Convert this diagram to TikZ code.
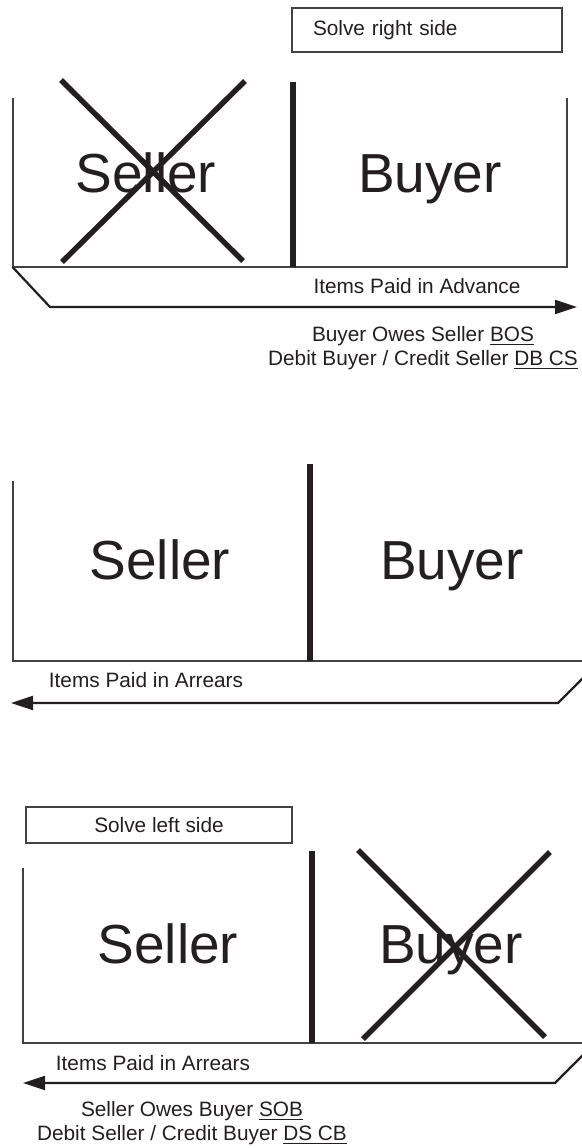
\documentclass[tikz,border=0pt]{standalone}
\usepackage{fontspec}
\setmainfont{Liberation Sans}
\usepackage{xcolor}
\usetikzlibrary{arrows.meta, positioning}
\definecolor{ink}{RGB}{35,31,32}

\begin{document}
\begin{tikzpicture}[x=0.5pt,y=-0.5pt,
                    frame/.style={draw=ink!85,line width=1pt},
                    divider/.style={draw=ink,line width=3pt},
                    cross/.style={draw=ink,line width=2.7pt},
                    flow/.style={draw=ink,line width=1.1pt,-{Triangle[length=11pt,width=7pt]}},
                    note/.style={text=ink,inner sep=0pt,font=\fontsize{10.4}{12.5}\selectfont},
                    side/.style={text=ink,inner sep=0pt,font=\fontsize{27.5}{33}\selectfont},
                    tag/.style={draw=ink!85,line width=0.8pt,text=ink,font=\fontsize{10.4}{12.5}\selectfont}]
  \clip (0,0) rectangle (582,1148);
%first section
  \node (Box1) [tag,text width=114pt,align=left,inner xsep=10.5pt,minimum height=22pt] at (427,30) {Solve right side};
  \coordinate (TL1) at (12.5,98);
  \coordinate (BL1) at (12.5,267);
  \coordinate (BR1) at (567,267);
  \coordinate (TR1) at (567,98);
  \coordinate (Dt1) at (293,82);
  \coordinate (Db1) at (293,267);
  \coordinate (K1) at (50,307);
  \coordinate (E1) at (577,307);
  \node[side,anchor=base] (Seller1) at (146,192) {Seller};
  \node[side,anchor=base] (Buyer1) at (430,192) {Buyer};
  \coordinate (Xa1) at (61,80);
  \coordinate (Xb1) at (243,261);
  \coordinate (Xc1) at (245,81);
  \coordinate (Xd1) at (62,262);
  \draw[frame] (TL1) -- (BL1) -- (BR1) -- (TR1);
  \draw[divider] (Dt1) -- (Db1);
  \draw[cross] (Xa1) -- (Xb1);
  \draw[cross] (Xc1) -- (Xd1);
  \draw[flow] (BL1) -- (K1) -- (E1);
  \node[note,anchor=base] (Paid1) at (417,293) {Items Paid in Advance};
  \node[note,anchor=base] (Owes1) at (423,341) {Buyer Owes Seller \underline{BOS}};
  \node[note,anchor=base] (Entry1) [shift={(0,24)}] at (Owes1.base) {Debit Buyer / Credit Seller \underline{DB CS}};
%second section
  \coordinate (TL2) at (12.7,481);
  \coordinate (BL2) at (12.7,661);
  \coordinate (BR2) at (600,661);
  \coordinate (TR2) at (600,481);
  \coordinate (Dt2) at (310,464);
  \coordinate (Db2) at (310,661);
  \coordinate (K2) at (558,703);
  \coordinate (E2) at (11,703);
  \node[side,anchor=base] (Seller2) at (160,579) {Seller};
  \node[side,anchor=base] (Buyer2) at (452,579) {Buyer};
  \draw[frame] (TL2) -- (BL2) -- (BR2) -- (TR2);
  \draw[divider] (Dt2) -- (Db2);
  \draw[flow] (BR2) -- (K2) -- (E2);
  \node[note,anchor=base] (Paid2) at (146,687) {Items Paid in Arrears};
%third section
  \node (Box3) [tag,minimum width=133pt,minimum height=18pt] at (159,825) {Solve left side};
  \coordinate (TL3) at (23,868);
  \coordinate (BL3) at (23,1043);
  \coordinate (BR3) at (595,1043);
  \coordinate (TR3) at (595,868);
  \coordinate (Dt3) at (312,851);
  \coordinate (Db3) at (312,1043);
  \coordinate (K3) at (555,1083);
  \coordinate (E3) at (23,1083);
  \node[side,anchor=base] (Seller3) at (168,963) {Seller};
  \node[side,anchor=base] (Buyer3) at (451,963) {Buyer};
  \coordinate (Xa3) at (358,850);
  \coordinate (Xb3) at (545,1037);
  \coordinate (Xc3) at (550,852);
  \coordinate (Xd3) at (363,1039);
  \draw[frame] (TL3) -- (BL3) -- (BR3) -- (TR3);
  \draw[divider] (Dt3) -- (Db3);
  \draw[cross] (Xa3) -- (Xb3);
  \draw[cross] (Xc3) -- (Xd3);
  \draw[flow] (BR3) -- (K3) -- (E3);
  \node[note,anchor=base] (Paid3) at (153,1070) {Items Paid in Arrears};
  \node[note,anchor=base] (Owes3) at (192,1116) {Seller Owes Buyer \underline{SOB}};
  \node[note,anchor=base] (Entry3) [shift={(0,24)}] at (Owes3.base) {Debit Seller / Credit Buyer \underline{DS CB}};
\end{tikzpicture}
\end{document}
